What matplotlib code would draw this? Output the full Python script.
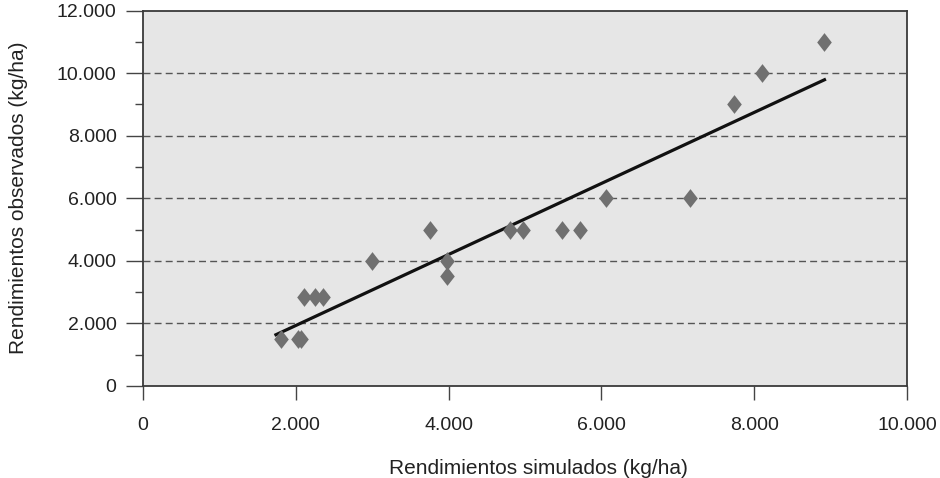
import numpy as np
import matplotlib
matplotlib.use("Agg")
import matplotlib.pyplot as plt
from matplotlib.ticker import MultipleLocator, FuncFormatter

# Data (kg/ha)
simulados = [1800, 2030, 2070, 2110, 2250, 2350, 3000, 3760, 3980, 3980,
             4810, 4980, 5490, 5720, 6060, 7160, 7730, 8100, 8920]
observados = [1500, 1500, 1500, 2850, 2850, 2850, 4000, 5000, 4000, 3500,
              5000, 5000, 5000, 5000, 6000, 6000, 9000, 10000, 11000]

x_ticks = [0, 2000, 4000, 6000, 8000, 10000]
y_ticks = [0, 2000, 4000, 6000, 8000, 10000, 12000]
x_label = "Rendimientos simulados (kg/ha)"
y_label = "Rendimientos observados (kg/ha)"

plt.rcParams['font.family'] = ['Liberation Sans', 'DejaVu Sans']

fig = plt.figure(figsize=(9.4, 4.78), dpi=100)
ax = fig.add_axes([143/940, 1 - 386/478, (907-143)/940, (386-10.5)/478])
ax.set_facecolor('#e6e6e6')

x = np.array(simulados, dtype=float)
y = np.array(observados, dtype=float)

# Linear regression line over the observed range
slope, intercept = np.polyfit(x, y, 1)
xl = np.array([x.min() - 60, x.max()])
ax.plot(xl, slope * xl + intercept, color='#111111', lw=2.3, zorder=3)

diamond = [(-0.78, 0), (0, 1), (0.78, 0), (0, -1), (-0.78, 0)]
ax.plot(x, y, linestyle='none', marker=diamond, markersize=13.5,
        color='#707070', markeredgewidth=0, zorder=4)

ax.set_xlim(0, 10000)
ax.set_ylim(0, 12000)
ax.set_xticks(x_ticks)
ax.set_yticks(y_ticks)
ax.yaxis.set_minor_locator(MultipleLocator(1000))

fmt = FuncFormatter(lambda v, p: f"{int(v):,}".replace(",", "."))
ax.xaxis.set_major_formatter(fmt)
ax.yaxis.set_major_formatter(fmt)

for g in y_ticks[1:-1]:
    ax.axhline(g, color='#555555', lw=1.0, ls=(0, (5, 3)), zorder=1)

ax.tick_params(axis='y', which='major', direction='out', length=12, width=1.0,
               color='#444444', labelsize=14, pad=7, labelcolor='#222222')
ax.tick_params(axis='y', which='minor', direction='out', length=6, width=1.0,
               color='#444444')
ax.tick_params(axis='x', which='major', direction='out', length=10, width=1.0,
               color='#444444', labelsize=14, pad=12, labelcolor='#222222')

for side in ['left', 'bottom', 'top', 'right']:
    ax.spines[side].set_color('#3a3a3a')
    ax.spines[side].set_linewidth(1.3)

ax.set_xlabel(x_label, fontsize=15, color='#222222', labelpad=18)
ax.xaxis.label.set_x(0.518)
ax.set_ylabel(y_label, fontsize=15, color='#222222', labelpad=21)

fig.savefig("out.png", dpi=100, facecolor='white')
